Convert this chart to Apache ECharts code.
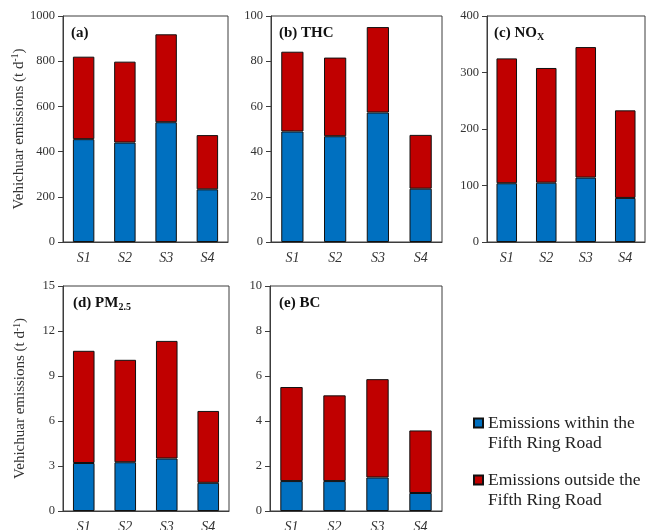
<!DOCTYPE html>
<html>
<head>
<meta charset="utf-8">
<script src="https://cdn.jsdelivr.net/npm/echarts@6/dist/echarts.min.js"></script>
<style>
  html, body { margin: 0; padding: 0; background: #fff; }
  #chart { width: 646px; height: 530px; }
</style>
</head>
<body>
<div id="chart"></div>
<script>
// Scenarios on the x-axis
const categories = ['S1', 'S2', 'S3', 'S4'];

// Daily vehicular emissions (t/d), split inside / outside the Fifth Ring Road
const totWithin  = [455, 440, 530, 233];
const totOutside = [365, 358, 389, 240];

const thcWithin  = [48.9, 46.8, 57.3, 23.6];
const thcOutside = [35.3, 34.8, 37.8, 23.8];

const noxWithin  = [104, 105, 114, 78];
const noxOutside = [221, 203, 231, 155];

const pmWithin   = [3.2, 3.25, 3.5, 1.88];
const pmOutside  = [7.48, 6.83, 7.84, 4.79];

const bcWithin   = [1.33, 1.33, 1.49, 0.80];
const bcOutside  = [4.18, 3.81, 4.37, 2.78];

// Axis ranges per panel
const yMax      = [1000, 100, 400, 15, 10];
const yInterval = [200, 20, 100, 3, 2];

const seriesNames = ['Emissions within the Fifth Ring Road', 'Emissions outside the Fifth Ring Road'];

const FONT = 'Liberation Serif';
const BLUE = '#0070C0';
const RED = '#C00000';
const FRAME = '#3c3c3c';

const panels = [
  { within: totWithin, outside: totOutside, box: { left: 63, top: 16, width: 165, height: 226 }, yName: true },
  { within: thcWithin, outside: thcOutside, box: { left: 271, top: 16, width: 171, height: 226 } },
  { within: noxWithin, outside: noxOutside, box: { left: 487, top: 16, width: 158, height: 226 } },
  { within: pmWithin, outside: pmOutside, box: { left: 63, top: 286, width: 166, height: 225 }, yName: true },
  { within: bcWithin, outside: bcOutside, box: { left: 270, top: 286, width: 172, height: 225 } }
];

const grid = [], xAxis = [], yAxis = [], series = [];
panels.forEach((p, i) => {
  grid.push(Object.assign({
    show: true, borderColor: FRAME, borderWidth: 1, backgroundColor: '#fff',
    containLabel: false, outerBoundsMode: 'none'
  }, p.box));
  xAxis.push({
    type: 'category', gridIndex: i, data: categories,
    axisLine: { lineStyle: { color: FRAME, width: 1 } },
    axisTick: { show: false },
    axisLabel: { fontFamily: FONT, fontStyle: 'italic', fontSize: 14, color: '#333', margin: 9 }
  });
  yAxis.push({
    type: 'value', gridIndex: i, min: 0, max: yMax[i], interval: yInterval[i],
    axisLine: { show: true, lineStyle: { color: FRAME, width: 1 } },
    axisTick: { show: true, length: 5, lineStyle: { color: FRAME } },
    splitLine: { show: false },
    axisLabel: { fontFamily: FONT, fontSize: 12.5, color: '#333', margin: 8, formatter: v => String(v) },
    name: p.yName ? '{t|Vehichuar emissions (t d}{sup|-1}{t|)}' : '',
    nameLocation: 'middle', nameRotate: 90, nameGap: 34,
    nameTextStyle: {
      fontFamily: FONT, color: '#333',
      rich: {
        t: { fontFamily: FONT, fontSize: 15, color: '#333', lineHeight: 17 },
        sup: { fontFamily: FONT, fontSize: 9.5, color: '#333', verticalAlign: 'top', lineHeight: 17 }
      }
    }
  });
  series.push({
    name: seriesNames[0], type: 'bar', stack: 's' + i, xAxisIndex: i, yAxisIndex: i,
    data: p.within, barWidth: '52%',
    itemStyle: { color: BLUE, borderColor: '#111', borderWidth: 1 }
  });
  series.push({
    name: seriesNames[1], type: 'bar', stack: 's' + i, xAxisIndex: i, yAxisIndex: i,
    data: p.outside, barWidth: '52%',
    itemStyle: { color: RED, borderColor: '#111', borderWidth: 1 }
  });
});

const titleRich = {
  b: { fontFamily: FONT, fontSize: 15, fontWeight: 'bold', color: '#111', lineHeight: 18 },
  sub: { fontFamily: FONT, fontSize: 10, fontWeight: 'bold', color: '#111', verticalAlign: 'bottom', lineHeight: 18, padding: [8, 0, 0, 0] }
};
const panelTitles = [
  { text: '{b|(a)}', left: 71, top: 24 },
  { text: '{b|(b) THC}', left: 279, top: 24 },
  { text: '{b|(c) NO}{sub|X}', left: 494, top: 24 },
  { text: '{b|(d) PM}{sub|2.5}', left: 73, top: 294 },
  { text: '{b|(e) BC}', left: 279, top: 294 }
];

// Legend text: a blank first line keeps the swatch level with the first text line
const legendRich = {
  e: { fontFamily: FONT, fontSize: 17.5, lineHeight: 20 },
  a: { fontFamily: FONT, fontSize: 17.5, lineHeight: 20, color: '#222' }
};

const chart = echarts.init(document.getElementById('chart'), null, { renderer: 'canvas' });
chart.setOption({
  animation: false,
  backgroundColor: '#fff',
  title: panelTitles.map(t => ({
    text: t.text, left: t.left, top: t.top, padding: 0,
    textStyle: { rich: titleRich, fontFamily: FONT }
  })),
  legend: {
    orient: 'vertical', left: 473, top: 394, itemGap: -1, padding: 0,
    itemWidth: 9, itemHeight: 9, icon: 'rect',
    data: seriesNames,
    formatter: name => {
      const parts = name.split(' the ');
      return '{e| }\n{a|' + parts[0] + ' the}\n{a|' + parts[1] + '}';
    },
    textStyle: { fontFamily: FONT, fontSize: 17.5, color: '#222', rich: legendRich }
  },
  grid, xAxis, yAxis, series
});
</script>
</body>
</html>
